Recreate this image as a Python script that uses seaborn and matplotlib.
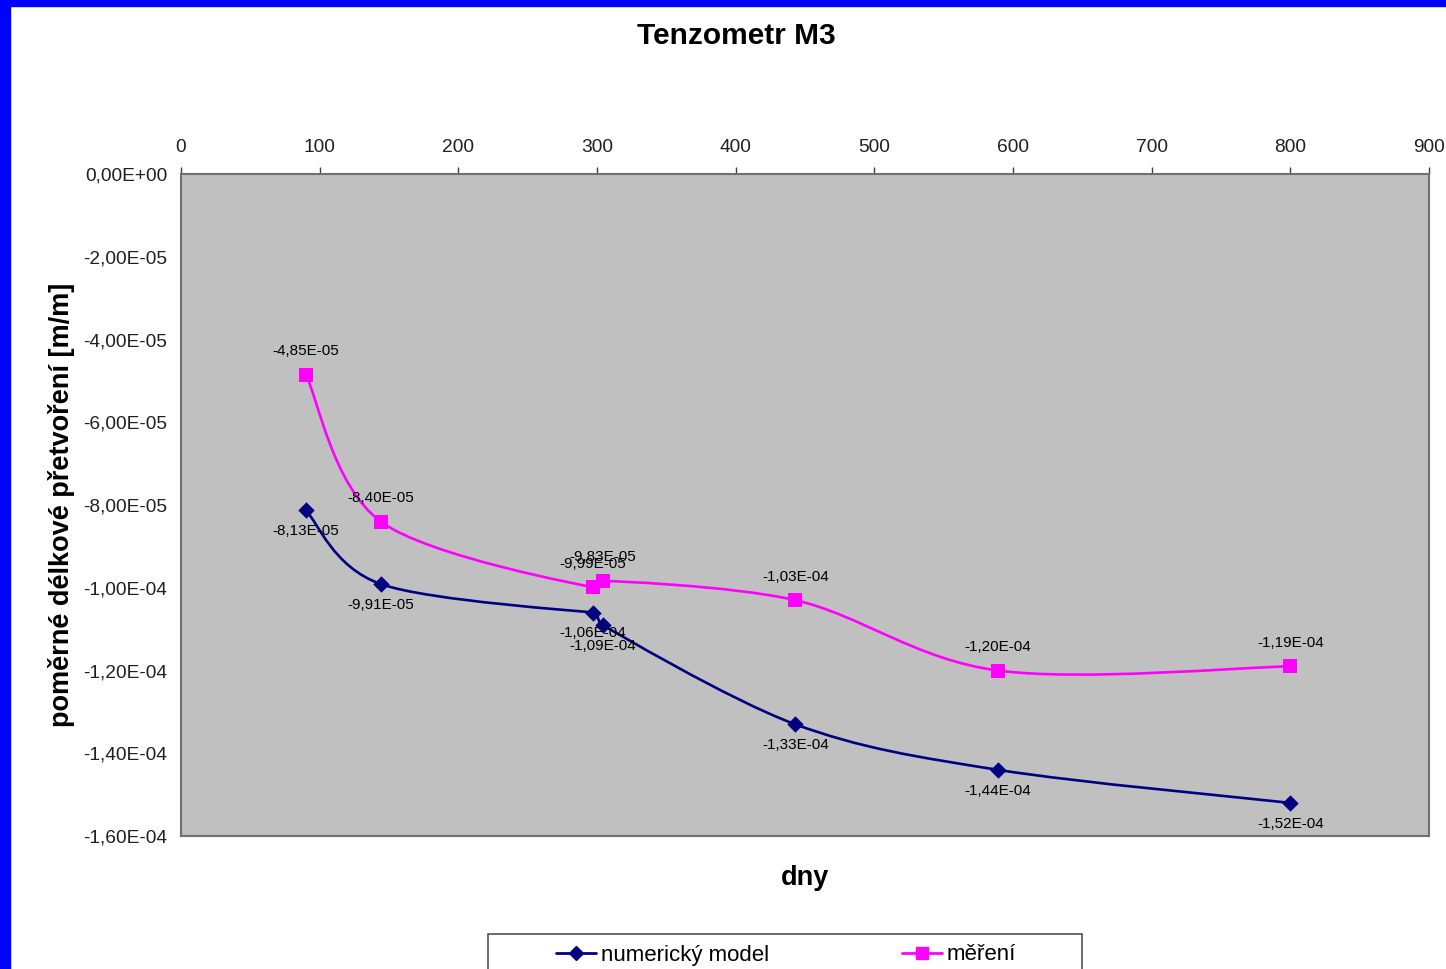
import numpy as np
import seaborn as sns
import matplotlib.pyplot as plt
from matplotlib.path import Path
from matplotlib.patches import PathPatch, Rectangle
from matplotlib.lines import Line2D
from matplotlib.ticker import FuncFormatter, MultipleLocator

# data
days = [90, 144, 297, 304, 443, 589, 800]
numeric_model = [-8.13e-05, -9.91e-05, -1.06e-04, -1.09e-04, -1.33e-04, -1.44e-04, -1.52e-04]
measured_days = [90, 144, 297, 304, 443, 589, 800]
measured = [-4.85e-05, -8.40e-05, -9.99e-05, -9.83e-05, -1.03e-04, -1.20e-04, -1.19e-04]
series_names = ['numerický model', 'měření']

NAVY = '#000080'
MAGENTA = '#FF00FF'

sns.set_style('white')
plt.rcParams['font.family'] = ['Liberation Sans', 'DejaVu Sans']
plt.rcParams['text.color'] = 'black'
plt.rcParams['axes.labelcolor'] = 'black'

W, H = 1446, 969
fig = plt.figure(figsize=(W / 100, H / 100), dpi=100)
ax = fig.add_axes([181 / W, 1 - 836 / H, (1429 - 181) / W, (836 - 174) / H])
ax.set_facecolor('#C0C0C0')
ax.set_xlim(0, 900)
ax.set_ylim(-1.6e-4, 0)


def sci_comma(v, pos):
    return ('%.2E' % v).replace('.', ',')


def excel_smooth(ax, xs, ys, color):
    # Excel-like smoothed line: cubic bezier through the points
    pts = ax.transData.transform(np.column_stack([xs, ys]))
    n = len(pts)

    def tangent(i):
        p_prev = pts[max(i - 1, 0)]
        p_next = pts[min(i + 1, n - 1)]
        t = (p_next - p_prev) / 6
        lims = []
        if i > 0:
            lims.append(np.linalg.norm(pts[i] - pts[i - 1]) / 2)
        if i < n - 1:
            lims.append(np.linalg.norm(pts[i + 1] - pts[i]) / 2)
        lim = min(lims)
        L = np.linalg.norm(t)
        if L > lim and L > 0:
            t = t * lim / L
        return t

    verts = [pts[0]]
    codes = [Path.MOVETO]
    for i in range(n - 1):
        verts += [pts[i] + tangent(i), pts[i + 1] - tangent(i + 1), pts[i + 1]]
        codes += [Path.CURVE4] * 3
    verts = ax.transData.inverted().transform(np.array(verts))
    patch = PathPatch(Path(verts, codes), facecolor='none', edgecolor=color,
                      lw=1.9, transform=ax.transData, zorder=3)
    ax.add_patch(patch)


excel_smooth(ax, days, numeric_model, NAVY)
excel_smooth(ax, measured_days, measured, MAGENTA)

sns.scatterplot(x=days, y=numeric_model, marker='D', s=70, color=NAVY,
                edgecolor=NAVY, linewidth=0, ax=ax, zorder=4, legend=False)
sns.scatterplot(x=measured_days, y=measured, marker='s', s=95, color=MAGENTA,
                edgecolor=MAGENTA, linewidth=0, ax=ax, zorder=5, legend=False)

for x, y in zip(days, numeric_model):
    ax.annotate(sci_comma(y, None), (x, y), xytext=(0, -15), textcoords='offset points',
                ha='center', va='center', fontsize=11, color='black', zorder=6)
for x, y in zip(measured_days, measured):
    ax.annotate(sci_comma(y, None), (x, y), xytext=(0, 17), textcoords='offset points',
                ha='center', va='center', fontsize=11, color='black', zorder=6)

ax.xaxis.set_major_locator(MultipleLocator(100))
ax.yaxis.set_major_locator(MultipleLocator(2e-5))
ax.yaxis.set_major_formatter(FuncFormatter(sci_comma))
ax.xaxis.tick_top()
ax.tick_params(axis='x', which='major', direction='out', length=5, width=1,
               color='#404040', labelsize=13.8, pad=8, labelcolor='#202020')
ax.tick_params(axis='y', which='major', direction='out', length=5, width=1,
               color='#404040', labelsize=13.8, pad=5, labelcolor='#202020')
for s in ax.spines.values():
    s.set_color('#707070')
    s.set_linewidth(1.5)

ax.set_xlabel('dny', fontsize=19.5, fontweight='bold', labelpad=21)
ax.xaxis.set_label_position('bottom')
ax.set_ylabel('poměrné délkové přetvoření [m/m]', fontsize=19.5, fontweight='bold', labelpad=6)
fig.text(736 / W, 1 - 36 / H, 'Tenzometr M3', ha='center', va='center',
         fontsize=21.5, fontweight='bold')

# legend box (drawn separately, Excel style with wide side padding)
fig.add_artist(Rectangle((488 / W, -0.05), (1082 - 488) / W, 0.05 + 1 - 934 / H,
                         transform=fig.transFigure, facecolor='white',
                         edgecolor='#505050', lw=1.2, zorder=1))
handles = [Line2D([], [], color=NAVY, lw=2, marker='D', markersize=7),
           Line2D([], [], color=MAGENTA, lw=2, marker='s', markersize=8)]
leg = fig.legend(handles, series_names, loc='center',
                 bbox_to_anchor=(786 / W, 1 - 955 / H), bbox_transform=fig.transFigure,
                 ncol=2, fontsize=16, frameon=False, handlelength=1.8,
                 handletextpad=0.2, columnspacing=6.0, borderpad=0, borderaxespad=0)
leg.set_zorder(2)

# blue frame on left and top edge
fig.add_artist(Rectangle((0, 0), 10 / W, 1, transform=fig.transFigure,
                         color='#0000FF', zorder=10))
fig.add_artist(Rectangle((0, 1 - 6 / H), 1, 6 / H, transform=fig.transFigure,
                         color='#0000FF', zorder=10))

fig.savefig('out.png', dpi=100)
